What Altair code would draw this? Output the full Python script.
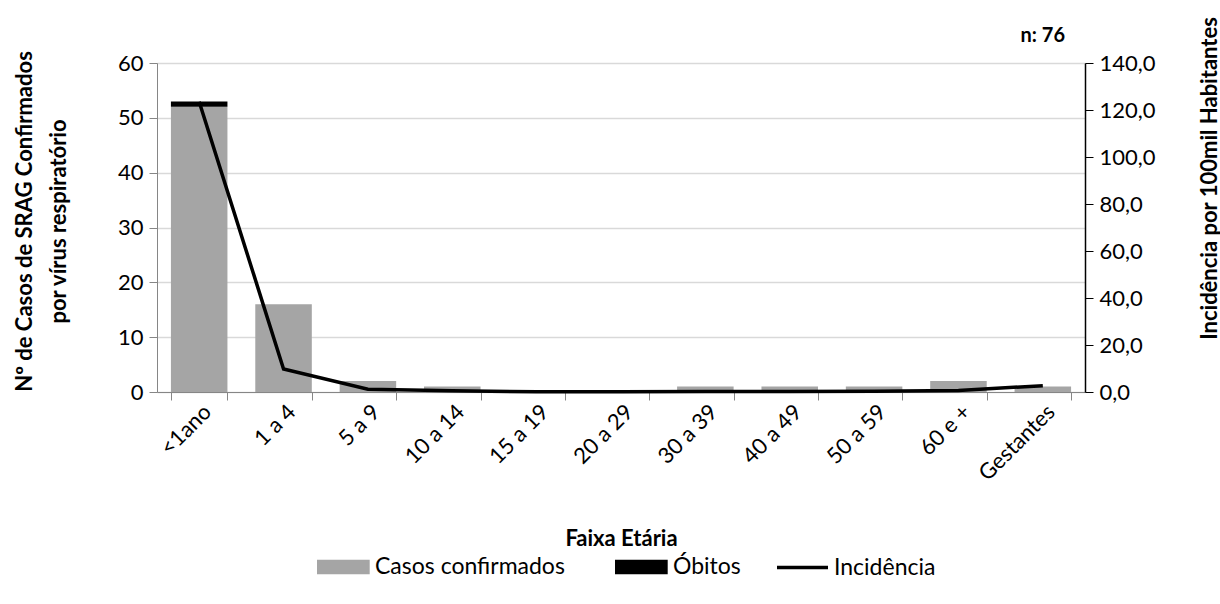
import altair as alt
import pandas as pd

faixas = ["<1ano", "1 a 4", "5 a 9", "10 a 14", "15 a 19", "20 a 29",
          "30 a 39", "40 a 49", "50 a 59", "60 e +", "Gestantes"]
casos = [52, 16, 2, 1, 0, 0, 1, 1, 1, 2, 1]
obitos = [1, 0, 0, 0, 0, 0, 0, 0, 0, 0, 0]
incidencia = [123.5, 9.8, 1.2, 0.5, 0.1, 0.1, 0.2, 0.2, 0.3, 0.6, 2.7]

FONT = "Lato"

bars_df = pd.DataFrame({
    "faixa": faixas * 2,
    "serie": ["Casos confirmados"] * len(faixas) + ["Óbitos"] * len(faixas),
    "valor": casos + obitos,
    "ordem": [0] * len(faixas) + [1] * len(faixas),
})
line_df = pd.DataFrame({"faixa": faixas, "inc": incidencia, "serie": ["Incidência"] * len(faixas)})

xenc = alt.X(
    "faixa:N", sort=faixas,
    scale=alt.Scale(paddingInner=0.33, paddingOuter=0.165),
    axis=alt.Axis(
        title="Faixa Etária", titleFont=FONT, titleFontSize=22, titleFontWeight="bold",
        titleY=146, titleBaseline="middle", titleColor="#000",
        labelAngle=-45, labelAlign="right", labelBaseline="middle", labelFont=FONT,
        labelFontSize=22, labelColor="#000", labelPadding=8, labelOffset=8,
        tickBand="extent", tickSize=8, tickColor="#868686", domainColor="#868686",
        grid=False,
    ),
)

bars = alt.Chart(bars_df).mark_bar().encode(
    x=xenc,
    y=alt.Y("valor:Q", stack="zero",
            scale=alt.Scale(domain=[0, 60], nice=False),
            axis=alt.Axis(
                values=[0, 10, 20, 30, 40, 50, 60], orient="left",
                title=["Nº de Casos de SRAG Confirmados", "por  vírus respiratório"],
                titleFont=FONT, titleFontSize=22, titleFontWeight="bold", titleColor="#000",
                titleAngle=270, titleX=-133, titleY=158, titleAlign="center",
                titleBaseline="middle", titleLineHeight=34,
                labelFont=FONT, labelFontSize=22, labelColor="#000", labelPadding=6,
                tickSize=8, tickColor="#868686", domainColor="#868686",
                grid=True, gridColor="#D9D9D9", gridWidth=1.5,
            )),
    fill=alt.Fill("serie:N",
                  scale=alt.Scale(domain=["Casos confirmados", "Óbitos"], range=["#A5A5A5", "#000000"]),
                  legend=alt.Legend(title=None, orient="none", direction="horizontal",
                                    legendX=160, legendY=487, padding=0,
                                    symbolType="M-1,-0.42H2.1V0.42H-1Z", symbolSize=1156,
                                    symbolStrokeWidth=0, columnPadding=50, labelLimit=400,
                                    labelFont=FONT, labelFontSize=23, labelColor="#000",
                                    labelOffset=24)),
    order=alt.Order("ordem:Q"),
)

line = alt.Chart(line_df).mark_line(strokeWidth=3.5).encode(
    x=alt.X("faixa:N", sort=faixas),
    y=alt.Y("inc:Q", scale=alt.Scale(domain=[0, 140], nice=False),
            axis=alt.Axis(
                values=[0, 20, 40, 60, 80, 100, 120, 140], orient="right",
                labelExpr="replace(format(datum.value, '.1f'), '.', ',')",
                title="Incidência  por 100mil Habitantes",
                titleFont=FONT, titleFontSize=22, titleFontWeight="bold", titleColor="#000",
                titleAngle=270, titleX=124, titleY=115, titleAlign="center",
                titleBaseline="middle",
                labelFont=FONT, labelFontSize=22, labelColor="#000", labelPadding=6,
                tickSize=8, tickColor="#000", domainColor="#000", domainWidth=1.5,
                grid=False,
            )),
    stroke=alt.Stroke("serie:N", scale=alt.Scale(domain=["Incidência"], range=["#000000"]),
                      legend=alt.Legend(title=None, orient="none", legendX=618, legendY=477,
                                        padding=0, labelLimit=400,
                                        symbolType="M-1,0H1", symbolSize=2601,
                                        symbolStrokeWidth=3.5,
                                        labelFont=FONT, labelFontSize=23, labelColor="#000",
                                        labelOffset=4)),
)

chart = alt.layer(bars, line).resolve_scale(y="independent", fill="independent", stroke="independent").properties(
    width=928, height=329,
    padding={"left": 157, "top": 63, "right": 135, "bottom": 212},
    autosize=alt.AutoSizeParams(type="none"),
    title=alt.Title("n: 76", anchor="end", frame="group", font=FONT, fontSize=20,
                    fontWeight="bold", color="#000", dx=-20, dy=45, offset=13),
).configure_view(stroke=None).configure(background="white")

chart.save("out.html", embed_options={"renderer": "svg", "actions": False})
